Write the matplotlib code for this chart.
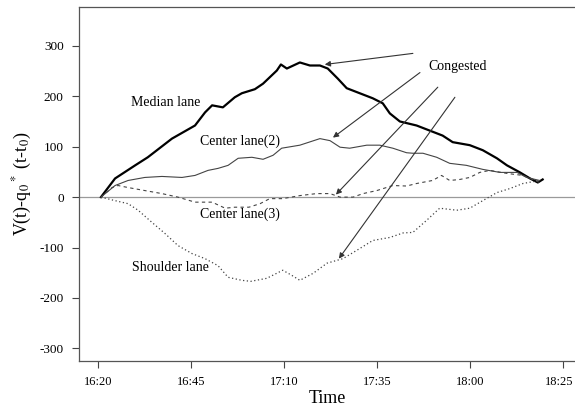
import matplotlib
matplotlib.use("Agg")
import matplotlib.pyplot as plt
import matplotlib.transforms as mtransforms

###### DATA (minutes after 16:20, cumulative deviation)
median_t = [0.7, 4.5, 9.9, 13.3, 19.8, 26, 28.7, 30.6, 33.5, 36.7, 38.6, 42.1, 44.3, 48, 49.1,
            50.7, 54.2, 56.9, 59.6, 61.7, 64.4, 66.8, 70.3, 73.8, 76.5, 78.4, 81.1, 85.6, 89.1,
            92.6, 95.3, 99.9, 103.4, 107.2, 109.9, 113.4, 116.1, 118.2, 119.5]
median_v = [0, 37, 63, 79, 116, 142, 168, 182, 178, 198, 206, 214, 225, 251, 263,
            255, 267, 261, 261, 255, 235, 216, 206, 196, 186, 166, 150, 142, 132,
            122, 109, 103, 93, 77, 63, 49, 37, 29, 35]

center2_t = [0.7, 4.5, 8, 12.5, 17.1, 22.5, 26, 29.5, 32.2, 34.9, 37.6, 41.3, 44.3, 47, 49.3,
             54.2, 59.6, 62.3, 65, 67.6, 72.2, 75.7, 79.2, 82.9, 84.6, 87.3, 91, 94.5, 99,
             103.4, 108, 112.6, 115.2, 118.7]
center2_v = [0, 23, 33, 39, 41, 39, 43, 53, 57, 63, 77, 79, 75, 83, 97,
             103, 116, 112, 99, 97, 103, 103, 97, 88, 87, 87, 79, 67, 63,
             55, 49, 49, 39, 33]

center3_t = [0.7, 3.7, 5.3, 8, 12.5, 17.1, 21.4, 26, 30.6, 34.1, 36.7, 40.5, 43.5, 46.1, 49.6,
             54.2, 58.7, 62.3, 65, 68.5, 71.2, 74.9, 79.2, 82.9, 85.6, 89.9, 92.3, 94.5, 97.2,
             99.9, 102.6, 105.3, 109.9, 114.2, 118.7]
center3_v = [0, 19, 23, 19, 13, 7, 0, -10, -10, -22, -20, -20, -13, -3, -3,
             3, 7, 7, 0, 0, 7, 13, 23, 22, 27, 33, 43, 33, 35,
             39, 49, 53, 47, 43, 29]

shoulder_t = [0.7, 4.5, 8, 10.7, 14.4, 17.9, 21.4, 25.2, 28.7, 32.2, 34.9, 38.6, 41, 45.3, 49.6,
              52, 54.2, 57.8, 61.5, 65.8, 70.3, 73.8, 78.4, 82, 84.6, 88.3, 91.8, 96.4, 99.9,
              103.4, 107.2, 110.7, 114.2, 118.7]
shoulder_v = [0, -7, -13, -26, -50, -72, -96, -112, -122, -136, -159, -165, -167, -161, -145,
              -155, -165, -151, -131, -122, -102, -86, -80, -71, -70, -46, -22, -26, -22,
              -7, 9, 17, 27, 33]

tick_min = [0, 25, 50, 75, 100, 125]
tick_labels = ["16:20", "16:45", "17:10", "17:35", "18:00", "18:25"]
y_ticks = [-300, -200, -100, 0, 100, 200, 300]


###### PLOT
plt.rcParams["font.family"] = "Liberation Serif"
plt.rcParams["mathtext.fontset"] = "stix"
plt.rcParams["axes.unicode_minus"] = False

fig = plt.figure(figsize=(5.75, 4.07), dpi=100)
ax = fig.add_axes([0.1374, 0.113, 0.8626, 0.8698])

ax.axhline(0, color="#9a9a9a", lw=0.9, zorder=1)
ax.plot(median_t, median_v, color="black", lw=1.6)
ax.plot(center2_t, center2_v, color="#444444", lw=0.8)
ax.plot(center3_t, center3_v, color="#444444", lw=0.8, ls=(0, (3, 3)))
ax.plot(shoulder_t, shoulder_v, color="#444444", lw=0.9, ls=(0, (1, 2)))

# labels
txt = dict(fontsize=10, ha="center", va="center")
ax.text(18, 188, "Median lane", **txt)
ax.text(38, 110, "Center lane(2)", **txt)
ax.text(38, -34, "Center lane(3)", **txt)
ax.text(19.3, -140, "Shoulder lane", **txt)
ax.text(96.7, 259, "Congested", **txt)

arrow = dict(arrowstyle="-|>", color="#333333", lw=0.8, mutation_scale=8, shrinkA=0, shrinkB=0)
ax.annotate("", xy=(60.9, 263), xytext=(84.6, 285), arrowprops=arrow)
ax.annotate("", xy=(63.1, 118), xytext=(86.5, 247), arrowprops=arrow)
ax.annotate("", xy=(63.9, 5), xytext=(91.3, 218), arrowprops=arrow)
ax.annotate("", xy=(64.7, -122), xytext=(95.9, 198), arrowprops=arrow)

ax.set_xlim(-5.2, 128.2)
ax.set_ylim(-325, 377)
ax.set_xticks(tick_min)
ax.set_xticklabels(tick_labels)
ax.set_yticks(y_ticks)
ax.tick_params(labelsize=9.5, length=5, width=0.8, color="#444444", pad=6)
ax.tick_params(axis="x", labelsize=9)
for s in ["left", "bottom", "top"]:
    ax.spines[s].set_color("#555555")
    ax.spines[s].set_linewidth(0.9)
ax.spines["right"].set_visible(False)

# nudge the last tick label so it stays inside the figure
last = ax.get_xticklabels()[-1]
last.set_transform(last.get_transform() + mtransforms.ScaledTranslation(-2.5 / 72, 0, fig.dpi_scale_trans))

ax.set_xlabel("Time", fontsize=13, labelpad=1)
ax.set_ylabel("V(t)-q$_0$$^*$ (t-t$_0$)", fontsize=13, labelpad=4)

plt.savefig("out.png", dpi=100)
